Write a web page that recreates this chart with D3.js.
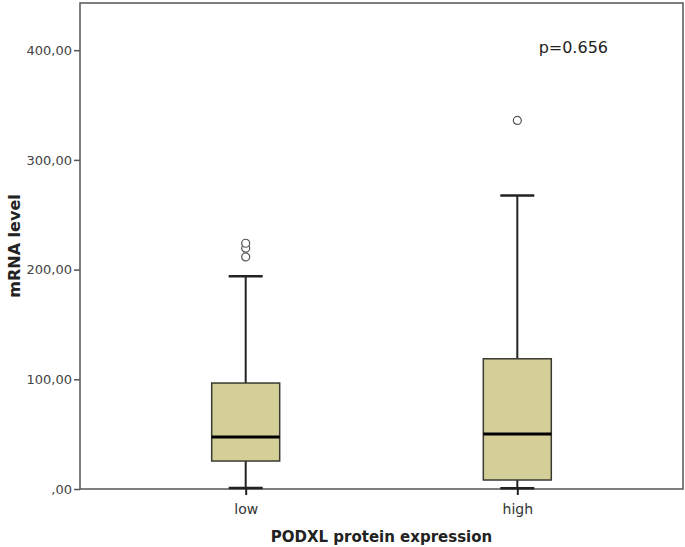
<!DOCTYPE html>
<html>
<head>
<meta charset="utf-8">
<script src="https://cdn.jsdelivr.net/npm/d3@7"></script>
<style>
  body { margin: 0; background: #fff; }
  text { font-family: "DejaVu Sans", sans-serif; }
</style>
</head>
<body>
<svg id="chart" width="685" height="547"></svg>
<script>
const width = 685;
const height = 547;
const margin = { left: 80, top: 3, right: 2, bottom: 58 };

// data
const groups = ['low', 'high'];
const lowWhisker = [1, 0.6];
const q1 = [25.5, 8.2];
const median = [47.4, 50.1];
const q3 = [96.6, 118.7];
const highWhisker = [194, 267.6];
const outliers = [[211.5, 219.5, 224], [336]];
const yTicks = [0, 100, 200, 300, 400];
const pLabel = 'p=0.656';

const svg = d3.select('#chart');

let x = d3.scalePoint()
  .domain(groups)
  .range([margin.left, width - margin.right])
  .padding(0.61);

let y = d3.scaleLinear()
  .domain([0, 443])
  .range([height - margin.bottom, margin.top]);

const fmt = v => v === 0 ? ',00' : d3.format('.2f')(v).replace('.', ',');

// frame
svg.append('rect')
  .attr('x', margin.left).attr('y', margin.top)
  .attr('width', width - margin.left - margin.right)
  .attr('height', height - margin.top - margin.bottom)
  .attr('fill', 'none')
  .attr('stroke', '#555')
  .attr('stroke-width', 1.5);

// y axis
let yAxis = svg.append('g')
  .attr('transform', `translate(${margin.left},0)`)
  .call(d3.axisLeft(y).tickValues(yTicks).tickFormat(fmt).tickSize(6).tickPadding(2));
yAxis.select('.domain').remove();
yAxis.selectAll('line').attr('stroke', '#555').attr('stroke-width', 1.5);
yAxis.selectAll('text').attr('font-size', 13).attr('fill', '#444')
  .style('font-family', '"DejaVu Sans", sans-serif');

// x axis
let xAxis = svg.append('g')
  .attr('transform', `translate(0,${height - margin.bottom})`)
  .call(d3.axisBottom(x).tickSize(6).tickPadding(9));
xAxis.select('.domain').remove();
xAxis.selectAll('line').attr('stroke', '#222').attr('stroke-width', 2);
xAxis.selectAll('text').attr('font-size', 14).attr('fill', '#333')
  .style('font-family', '"DejaVu Sans", sans-serif');

// boxes
const boxW = 68;
const capW = 34;
let box = svg.selectAll('g.box')
  .data(groups)
  .enter().append('g')
  .attr('class', 'box')
  .attr('transform', d => `translate(${x(d)},0)`);

box.append('line')
  .attr('y1', (d, i) => y(highWhisker[i])).attr('y2', (d, i) => y(lowWhisker[i]))
  .attr('stroke', '#222').attr('stroke-width', 2);

box.append('line')
  .attr('x1', -capW / 2).attr('x2', capW / 2)
  .attr('y1', (d, i) => y(highWhisker[i])).attr('y2', (d, i) => y(highWhisker[i]))
  .attr('stroke', '#222').attr('stroke-width', 2.5);

box.append('line')
  .attr('x1', -capW / 2).attr('x2', capW / 2)
  .attr('y1', (d, i) => y(lowWhisker[i])).attr('y2', (d, i) => y(lowWhisker[i]))
  .attr('stroke', '#222').attr('stroke-width', 2.5);

box.append('rect')
  .attr('x', -boxW / 2).attr('width', boxW)
  .attr('y', (d, i) => y(q3[i]))
  .attr('height', (d, i) => y(q1[i]) - y(q3[i]))
  .attr('fill', '#d4cf98')
  .attr('stroke', '#3a3a30')
  .attr('stroke-width', 1.5);

box.append('line')
  .attr('x1', -boxW / 2).attr('x2', boxW / 2)
  .attr('y1', (d, i) => y(median[i])).attr('y2', (d, i) => y(median[i]))
  .attr('stroke', '#000').attr('stroke-width', 3);

box.selectAll('circle')
  .data((d, i) => outliers[i])
  .enter().append('circle')
  .attr('r', 4)
  .attr('cy', d => y(d))
  .attr('fill', '#fff')
  .attr('stroke', '#555')
  .attr('stroke-width', 1.2);

// labels
svg.append('text')
  .attr('x', 608).attr('y', 53)
  .attr('text-anchor', 'end')
  .attr('font-size', 16)
  .attr('fill', '#222')
  .text(pLabel);

svg.append('text')
  .attr('transform', `translate(20,${(margin.top + height - margin.bottom) / 2}) rotate(-90)`)
  .attr('text-anchor', 'middle')
  .attr('font-size', 16)
  .attr('font-weight', 'bold')
  .attr('fill', '#222')
  .text('mRNA level');

svg.append('text')
  .attr('x', (margin.left + width - margin.right) / 2)
  .attr('y', 542)
  .attr('text-anchor', 'middle')
  .attr('font-size', 15)
  .attr('font-weight', 'bold')
  .attr('fill', '#222')
  .text('PODXL protein expression');
</script>
</body>
</html>
